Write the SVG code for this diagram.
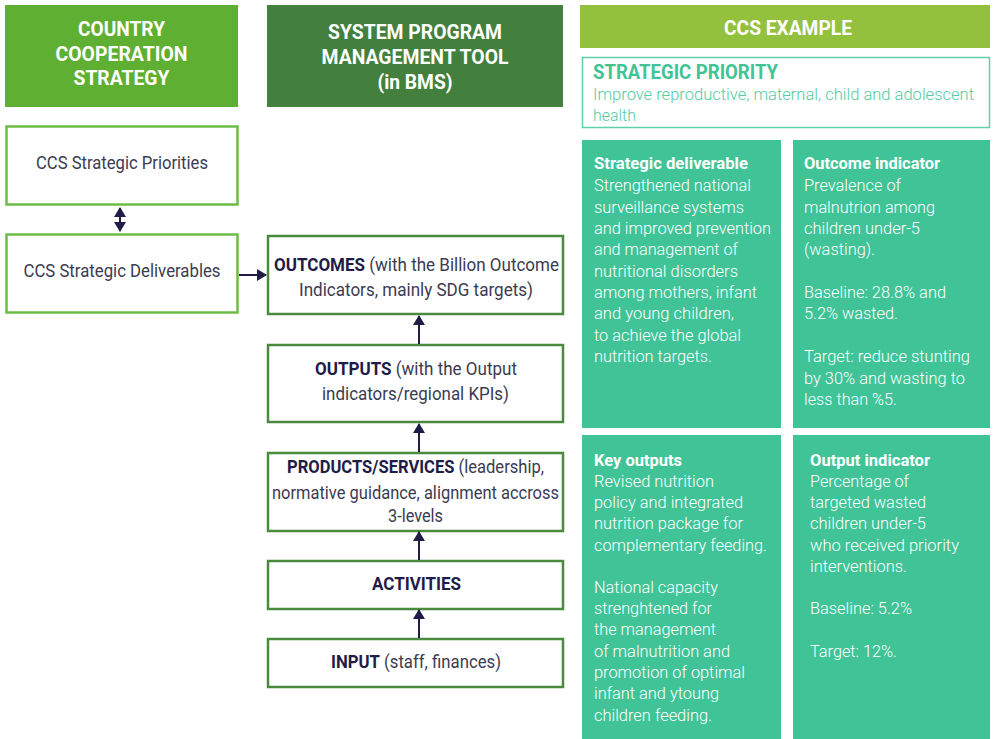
<svg xmlns="http://www.w3.org/2000/svg" width="995" height="739" viewBox="0 0 995 739">
<style>
text{font-family:Roboto,"Liberation Sans",sans-serif}
.hd{fill:#fff;font-weight:700;font-size:21px;text-anchor:middle}
.lbox{fill:#fff;stroke:#6cbd46;stroke-width:2.5}
.mbox{fill:#fff;stroke:#4a8a3e;stroke-width:2.5}
.bt{fill:#3b3b52;font-size:18px;font-weight:400}
.bb{fill:#1f1d47;font-size:18px;font-weight:700}
.panel{fill:#40c497}
.pt{fill:#fff;font-size:17px;font-weight:300}
.ptb{fill:#fff;font-size:17px;font-weight:700}
.arr{stroke:#1f1d47;stroke-width:2;fill:none}
</style>
<defs>
<marker id="ah" viewBox="0 0 10 12" refX="9" refY="6" markerWidth="10" markerHeight="12" markerUnits="userSpaceOnUse" orient="auto-start-reverse">
<path d="M0,0 L10,6 L0,12 z" fill="#1f1d47"/>
</marker>
</defs>

<g id="header-ccs">
<rect x="5" y="5" width="233" height="102" fill="#5faf33"/>
<text class="hd" x="121.5" y="36" textLength="87" lengthAdjust="spacingAndGlyphs">COUNTRY</text>
<text class="hd" x="121.5" y="61" textLength="132" lengthAdjust="spacingAndGlyphs">COOPERATION</text>
<text class="hd" x="121.5" y="85" textLength="96" lengthAdjust="spacingAndGlyphs">STRATEGY</text>
</g>
<g id="header-spmt">
<rect x="267" y="5" width="296" height="102" fill="#43803d"/>
<text class="hd" x="415" y="39" textLength="174" lengthAdjust="spacingAndGlyphs">SYSTEM PROGRAM</text>
<text class="hd" x="415" y="64" textLength="187" lengthAdjust="spacingAndGlyphs">MANAGEMENT TOOL</text>
<text class="hd" x="415" y="89" textLength="75" lengthAdjust="spacingAndGlyphs">(in BMS)</text>
</g>
<g id="header-example">
<rect x="580" y="5" width="410" height="43" fill="#93c13e"/>
<text class="hd" x="788" y="35" textLength="128" lengthAdjust="spacingAndGlyphs">CCS EXAMPLE</text>
</g>
<g id="strategic-priority">
<rect x="582.5" y="57.5" width="407" height="70" fill="#fff" stroke="#5fd0a9" stroke-width="1.5"/>
<text x="593" y="79" fill="#3fc495" font-size="21" font-weight="700" textLength="185" lengthAdjust="spacingAndGlyphs">STRATEGIC PRIORITY</text>
<text x="593" y="100" fill="#55cba2" font-size="17" font-weight="300" textLength="381" lengthAdjust="spacingAndGlyphs">Improve reproductive, maternal, child and adolescent</text>
<text x="593" y="121" fill="#55cba2" font-size="17" font-weight="300" textLength="43" lengthAdjust="spacingAndGlyphs">health</text>
</g>

<g id="ccs-priorities">
<rect class="lbox" x="6.5" y="126.5" width="231" height="78"/>
<text class="bt" x="122" y="169" text-anchor="middle" textLength="172" lengthAdjust="spacingAndGlyphs">CCS Strategic Priorities</text>
</g>
<g id="ccs-deliverables">
<rect class="lbox" x="6.5" y="234.5" width="231" height="78"/>
<text class="bt" x="122" y="277" text-anchor="middle" textLength="197" lengthAdjust="spacingAndGlyphs">CCS Strategic Deliverables</text>
</g>

<g id="outcomes">
<rect class="mbox" x="268" y="236" width="295" height="78"/>
<text class="bt" x="416.5" y="271" text-anchor="middle" textLength="285" lengthAdjust="spacingAndGlyphs"><tspan class="bb">OUTCOMES</tspan> (with the Billion Outcome</text>
<text class="bt" x="416" y="296" text-anchor="middle" textLength="234" lengthAdjust="spacingAndGlyphs">Indicators, mainly SDG targets)</text>
</g>
<g id="outputs">
<rect class="mbox" x="268" y="345" width="295" height="77"/>
<text class="bt" x="416" y="375" text-anchor="middle" textLength="202" lengthAdjust="spacingAndGlyphs"><tspan class="bb">OUTPUTS</tspan> (with the Output</text>
<text class="bt" x="415.5" y="400" text-anchor="middle" textLength="187" lengthAdjust="spacingAndGlyphs">indicators/regional KPIs)</text>
</g>
<g id="products-services">
<rect class="mbox" x="268" y="453" width="295" height="78"/>
<text class="bt" x="0" y="0" transform="translate(415.5,473) scale(0.84,1)" text-anchor="middle" textLength="306" lengthAdjust="spacingAndGlyphs"><tspan class="bb">PRODUCTS/SERVICES</tspan> (leadership,</text>
<text class="bt" x="415.5" y="499" text-anchor="middle" textLength="287" lengthAdjust="spacingAndGlyphs">normative guidance, alignment accross</text>
<text class="bt" x="415.5" y="522" text-anchor="middle" textLength="55" lengthAdjust="spacingAndGlyphs">3-levels</text>
</g>
<g id="activities">
<rect class="mbox" x="268" y="561" width="295" height="48"/>
<text class="bb" x="416.5" y="590" text-anchor="middle" textLength="89" lengthAdjust="spacingAndGlyphs">ACTIVITIES</text>
</g>
<g id="input">
<rect class="mbox" x="268" y="639" width="295" height="48"/>
<text class="bt" x="416" y="668" text-anchor="middle" textLength="170" lengthAdjust="spacingAndGlyphs"><tspan class="bb">INPUT</tspan> (staff, finances)</text>
</g>

<g id="connectors">
<line class="arr" x1="120" y1="208" x2="120" y2="231" marker-start="url(#ah)" marker-end="url(#ah)"/>
<line class="arr" x1="239" y1="275" x2="266" y2="275" marker-end="url(#ah)"/>
<line class="arr" x1="419" y1="344" x2="419" y2="316" marker-end="url(#ah)"/>
<line class="arr" x1="419" y1="452" x2="419" y2="424" marker-end="url(#ah)"/>
<line class="arr" x1="419" y1="560" x2="419" y2="532" marker-end="url(#ah)"/>
<line class="arr" x1="419" y1="638" x2="419" y2="610" marker-end="url(#ah)"/>
</g>

<g id="strategic-deliverable">
<rect class="panel" x="582" y="140" width="199" height="288"/>
<text class="ptb" x="594" y="169" textLength="154" lengthAdjust="spacingAndGlyphs">Strategic deliverable</text>
<text class="pt" x="594" y="191" textLength="157" lengthAdjust="spacingAndGlyphs">Strengthened national</text>
<text class="pt" x="594" y="213" textLength="150" lengthAdjust="spacingAndGlyphs">surveillance systems</text>
<text class="pt" x="594" y="234" textLength="177" lengthAdjust="spacingAndGlyphs">and improved prevention</text>
<text class="pt" x="594" y="255" textLength="144" lengthAdjust="spacingAndGlyphs">and management of</text>
<text class="pt" x="594" y="277" textLength="144" lengthAdjust="spacingAndGlyphs">nutritional disorders</text>
<text class="pt" x="594" y="298" textLength="163" lengthAdjust="spacingAndGlyphs">among mothers, infant</text>
<text class="pt" x="594" y="319" textLength="140" lengthAdjust="spacingAndGlyphs">and young children,</text>
<text class="pt" x="594" y="341" textLength="147" lengthAdjust="spacingAndGlyphs">to achieve the global</text>
<text class="pt" x="594" y="362" textLength="118" lengthAdjust="spacingAndGlyphs">nutrition targets.</text>
</g>
<g id="outcome-indicator">
<rect class="panel" x="793" y="140" width="197" height="288"/>
<text class="ptb" x="804" y="169" textLength="136" lengthAdjust="spacingAndGlyphs">Outcome indicator</text>
<text class="pt" x="804" y="191" textLength="97" lengthAdjust="spacingAndGlyphs">Prevalence of</text>
<text class="pt" x="804" y="213" textLength="131" lengthAdjust="spacingAndGlyphs">malnutrion among</text>
<text class="pt" x="804" y="234" textLength="116" lengthAdjust="spacingAndGlyphs">children under-5</text>
<text class="pt" x="804" y="255" textLength="71" lengthAdjust="spacingAndGlyphs">(wasting).</text>
<text class="pt" x="804" y="298" textLength="142" lengthAdjust="spacingAndGlyphs">Baseline: 28.8% and</text>
<text class="pt" x="804" y="319" textLength="94" lengthAdjust="spacingAndGlyphs">5.2% wasted.</text>
<text class="pt" x="804" y="362" textLength="166" lengthAdjust="spacingAndGlyphs">Target: reduce stunting</text>
<text class="pt" x="804" y="384" textLength="161" lengthAdjust="spacingAndGlyphs">by 30% and wasting to</text>
<text class="pt" x="804" y="405" textLength="93" lengthAdjust="spacingAndGlyphs">less than %5.</text>
</g>
<g id="key-outputs">
<rect class="panel" x="582" y="435" width="199" height="304"/>
<text class="ptb" x="594" y="466" textLength="88" lengthAdjust="spacingAndGlyphs">Key outputs</text>
<text class="pt" x="594" y="487" textLength="120" lengthAdjust="spacingAndGlyphs">Revised nutrition</text>
<text class="pt" x="594" y="508" textLength="149" lengthAdjust="spacingAndGlyphs">policy and integrated</text>
<text class="pt" x="594" y="529" textLength="149" lengthAdjust="spacingAndGlyphs">nutrition package for</text>
<text class="pt" x="594" y="551" textLength="173" lengthAdjust="spacingAndGlyphs">complementary feeding.</text>
<text class="pt" x="594" y="593" textLength="124" lengthAdjust="spacingAndGlyphs">National capacity</text>
<text class="pt" x="594" y="614" textLength="118" lengthAdjust="spacingAndGlyphs">strenghtened for</text>
<text class="pt" x="594" y="635" textLength="122" lengthAdjust="spacingAndGlyphs">the management</text>
<text class="pt" x="594" y="657" textLength="136" lengthAdjust="spacingAndGlyphs">of malnutrition and</text>
<text class="pt" x="594" y="678" textLength="151" lengthAdjust="spacingAndGlyphs">promotion of optimal</text>
<text class="pt" x="594" y="699" textLength="125" lengthAdjust="spacingAndGlyphs">infant and ytoung</text>
<text class="pt" x="594" y="721" textLength="118" lengthAdjust="spacingAndGlyphs">children feeding.</text>
</g>
<g id="output-indicator">
<rect class="panel" x="793" y="435" width="197" height="304"/>
<text class="ptb" x="810" y="466" textLength="120" lengthAdjust="spacingAndGlyphs">Output indicator</text>
<text class="pt" x="810" y="487" textLength="99" lengthAdjust="spacingAndGlyphs">Percentage of</text>
<text class="pt" x="810" y="508" textLength="116" lengthAdjust="spacingAndGlyphs">targeted wasted</text>
<text class="pt" x="810" y="529" textLength="116" lengthAdjust="spacingAndGlyphs">children under-5</text>
<text class="pt" x="810" y="551" textLength="149" lengthAdjust="spacingAndGlyphs">who received priority</text>
<text class="pt" x="810" y="572" textLength="97" lengthAdjust="spacingAndGlyphs">interventions.</text>
<text class="pt" x="810" y="614" textLength="102" lengthAdjust="spacingAndGlyphs">Baseline: 5.2%</text>
<text class="pt" x="810" y="657" textLength="87" lengthAdjust="spacingAndGlyphs">Target: 12%.</text>
</g>
</svg>
